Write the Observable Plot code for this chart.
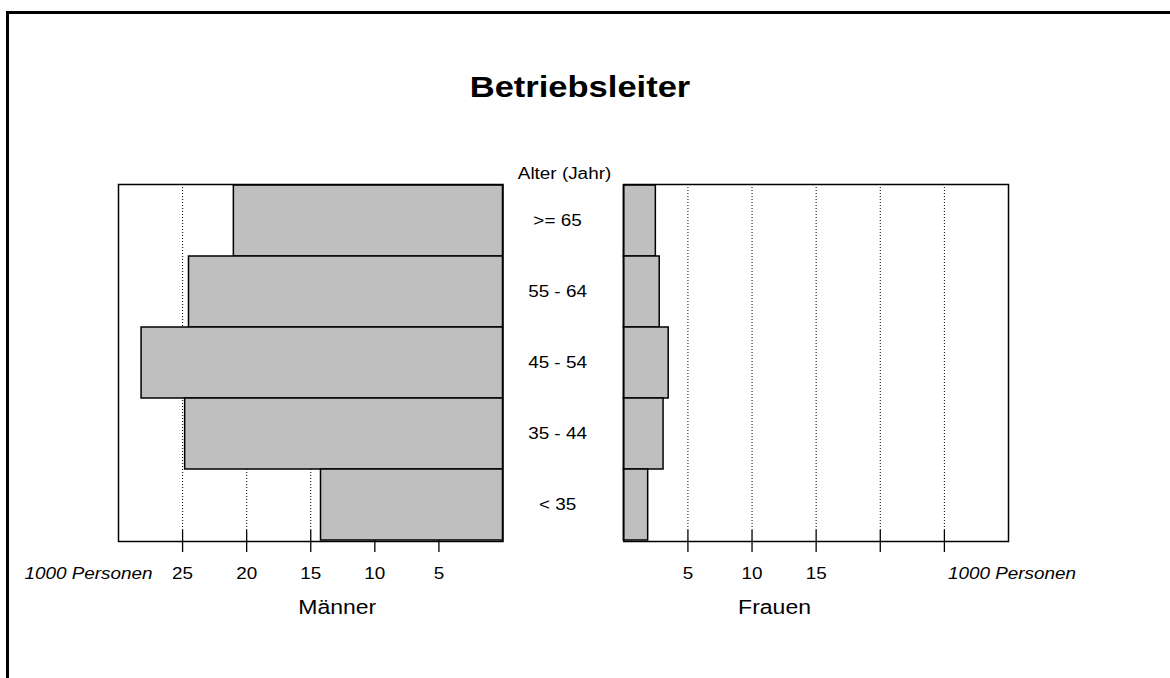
<!DOCTYPE html>
<html>
<head>
<meta charset="utf-8">
<script src="https://cdn.jsdelivr.net/npm/d3@7"></script>
<script src="https://cdn.jsdelivr.net/npm/@observablehq/plot@0.6"></script>
<style>
html, body { margin: 0; padding: 0; background: #fff; width: 1170px; height: 678px; overflow: hidden; }
#page { position: relative; width: 1170px; height: 678px; overflow: hidden; font-family: "Liberation Sans", Arial, sans-serif; }
#border { position: absolute; left: 6px; top: 11px; width: 1400px; height: 900px; border: 3px solid #000; box-sizing: border-box; }
#title { position: absolute; left: 0; width: 1160px; top: 71.5px; line-height: 30px; text-align: center; font-weight: bold; font-size: 30px; color: #000; transform: scaleX(1.15); transform-origin: 580px 50%; }
.plot { position: absolute; left: 0; top: 0; }
</style>
</head>
<body>
<div id="page">
  <div id="border"></div>
  <div id="title"></div>
  <div id="left" class="plot"></div>
  <div id="right" class="plot"></div>
</div>
<script>
// ---- data ----
const chartTitle = "Betriebsleiter";
const ageTitle = "Alter (Jahr)";
const ages = [">= 65", "55 - 64", "45 - 54", "35 - 44", "< 35"];
const maenner = [21.0, 24.5, 28.2, 24.8, 14.2];
const frauen = [2.5, 2.8, 3.5, 3.1, 1.9];
const leftTicks = [25, 20, 15, 10, 5];
const leftTickLabels = ["25", "20", "15", "10", "5"];
const rightTicks = [5, 10, 15, 20, 25];
const rightTickLabels = ["5", "10", "15", "", ""];
const unitLabel = "1000 Personen";
const leftTitle = "Männer";
const rightTitle = "Frauen";

// ---- chart ----
document.getElementById("title").textContent = chartTitle;

const W = 1170, H = 678;
const frameTop = 184, frameBottom = 541;
const mRows = ages.map((a, i) => ({age: a, value: maenner[i]}));
const fRows = ages.map((a, i) => ({age: a, value: frauen[i]}));
const font = '"Liberation Sans", Arial, sans-serif';

const common = {
  width: W,
  height: H,
  marginTop: frameTop,
  marginBottom: H - frameBottom,
  y: {type: "band", domain: ages, padding: 0, axis: null},
  style: {background: "transparent", fontFamily: font, fontSize: "16px", color: "#000", overflow: "visible"}
};

const gridOpts = {stroke: "#000", strokeOpacity: 1, strokeWidth: 1, strokeDasharray: "1,2", insetBottom: 11, insetTop: 3};
const tickOpts = {anchor: "bottom", tickSize: 22, dy: -11, fill: "none", label: null, strokeWidth: 1.3};

const left = Plot.plot({
  ...common,
  marginLeft: 118,
  marginRight: W - 502.5,
  x: {domain: [0, 30], reverse: true},
  marks: [
    Plot.gridX({ticks: leftTicks, ...gridOpts}),
    Plot.axisX({ticks: leftTicks, ...tickOpts}),
    Plot.barX(mRows, {x: "value", y: "age", fill: "#bfbfbf", stroke: "#000", strokeWidth: 1.5, inset: 0}),
    Plot.frame({stroke: "#000", strokeWidth: 1.5}),
    Plot.text(leftTicks, {x: d => d, text: (d, i) => leftTickLabels[i], frameAnchor: "bottom", lineAnchor: "middle", dy: 32.5}),
    Plot.text([unitLabel], {frameAnchor: "bottom-left", textAnchor: "end", lineAnchor: "middle", dx: 34, dy: 32.5, fontStyle: "italic"}),
    Plot.text(mRows, {x: d => 0, y: "age", text: "age", dx: 54.5, lineAnchor: "middle"}),
    Plot.text([ageTitle], {frameAnchor: "top-right", textAnchor: "middle", lineAnchor: "middle", dx: 61.5, dy: -11}),
    Plot.text([leftTitle], {frameAnchor: "bottom", lineAnchor: "middle", dx: 26.5, dy: 65.8, fontSize: 19.5})
  ]
});
document.getElementById("left").appendChild(left);

const right = Plot.plot({
  ...common,
  marginLeft: 623.3,
  marginRight: W - 1008,
  x: {domain: [0, 30]},
  marks: [
    Plot.gridX({ticks: rightTicks, ...gridOpts}),
    Plot.axisX({ticks: rightTicks, ...tickOpts}),
    Plot.barX(fRows, {x: "value", y: "age", fill: "#bfbfbf", stroke: "#000", strokeWidth: 1.5, inset: 0}),
    Plot.frame({stroke: "#000", strokeWidth: 1.5}),
    Plot.text(rightTicks, {x: d => d, text: (d, i) => rightTickLabels[i], frameAnchor: "bottom", lineAnchor: "middle", dy: 32.5}),
    Plot.text([unitLabel], {frameAnchor: "bottom-right", textAnchor: "middle", lineAnchor: "middle", dx: 3.5, dy: 32.5, fontStyle: "italic"}),
    Plot.text([rightTitle], {frameAnchor: "bottom", lineAnchor: "middle", dx: -41.6, dy: 65.8, fontSize: 19.5})
  ]
});
document.getElementById("right").appendChild(right);

// the reference's lettering is horizontally wider than Arial: stretch glyphs a little
function stretch(svg, k) {
  svg.querySelectorAll("text").forEach(t => {
    const w = t.getComputedTextLength();
    if (w > 0) {
      t.setAttribute("textLength", (w * k).toFixed(2));
      t.setAttribute("lengthAdjust", "spacingAndGlyphs");
    }
  });
}
stretch(left, 1.18);
stretch(right, 1.18);
</script>
</body>
</html>
